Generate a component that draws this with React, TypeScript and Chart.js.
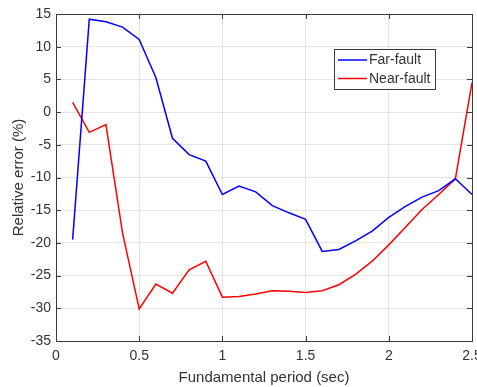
import React, { useEffect, useRef } from "react";
import { Chart, registerables } from "chart.js";

Chart.register(...registerables);

const periods = [0.1, 0.2, 0.3, 0.4, 0.5, 0.6, 0.7, 0.8, 0.9, 1.0, 1.1, 1.2, 1.3, 1.4, 1.5, 1.6, 1.7, 1.8, 1.9, 2.0, 2.1, 2.2, 2.3, 2.4, 2.5];
const farFault = [-19.5, 14.2, 13.8, 13.0, 11.1, 5.3, -4.0, -6.5, -7.5, -12.6, -11.3, -12.2, -14.3, -15.4, -16.4, -21.3, -21.0, -19.7, -18.2, -16.1, -14.4, -13.0, -12.0, -10.2, -12.6];
const nearFault = [1.5, -3.1, -1.9, -18.5, -30.1, -26.3, -27.7, -24.1, -22.8, -28.3, -28.2, -27.8, -27.3, -27.4, -27.6, -27.3, -26.4, -24.8, -22.8, -20.3, -17.6, -14.9, -12.6, -10.2, 4.5];
const xTicks = [0, 0.5, 1, 1.5, 2, 2.5];
const yTicks = [-35, -30, -25, -20, -15, -10, -5, 0, 5, 10, 15];
const seriesNames = ["Far-fault", "Near-fault"];
const seriesColors = ["#0000ff", "#ff0000"];

const FONT = "'Liberation Sans', Arial, Helvetica, sans-serif";
const AXIS_COLOR = "#3a3a3a";
const TEXT_COLOR = "#333333";

const frameAndLegend = {
  id: "frameAndLegend",
  afterDraw(chart: any) {
    const { ctx, chartArea } = chart;
    const { left, right, top, bottom } = chartArea;
    ctx.save();
    ctx.strokeStyle = AXIS_COLOR;
    ctx.lineWidth = 1;
    ctx.strokeRect(Math.round(left) + 0.5, Math.round(top) + 0.5, Math.round(right - left), Math.round(bottom - top));
    // inner tick marks on all four sides
    const xs = chart.scales.x;
    const ys = chart.scales.y;
    ctx.beginPath();
    xs.ticks.forEach((t: any) => {
      const px = Math.round(xs.getPixelForValue(t.value)) + 0.5;
      ctx.moveTo(px, bottom);
      ctx.lineTo(px, bottom - 5);
      ctx.moveTo(px, top);
      ctx.lineTo(px, top + 5);
    });
    ys.ticks.forEach((t: any) => {
      const py = Math.round(ys.getPixelForValue(t.value)) + 0.5;
      ctx.moveTo(left, py);
      ctx.lineTo(left + 5, py);
      ctx.moveTo(right, py);
      ctx.lineTo(right - 5, py);
    });
    ctx.stroke();

    // legend box
    const bx = 334, by = 49, bw = 101, bh = 40;
    ctx.fillStyle = "#ffffff";
    ctx.fillRect(bx, by, bw, bh);
    ctx.strokeStyle = AXIS_COLOR;
    ctx.strokeRect(bx + 0.5, by + 0.5, bw, bh);
    ctx.font = `14px ${FONT}`;
    ctx.textBaseline = "middle";
    ctx.textAlign = "left";
    chart.data.datasets.forEach((ds: any, i: number) => {
      const ly = by + 11 + i * 18.5;
      ctx.strokeStyle = ds.borderColor;
      ctx.lineWidth = 1.5;
      ctx.beginPath();
      ctx.moveTo(bx + 4, ly);
      ctx.lineTo(bx + 33, ly);
      ctx.stroke();
      ctx.fillStyle = TEXT_COLOR;
      ctx.fillText(ds.label, bx + 35, ly + 0.5);
    });
    ctx.restore();
  },
};

export default function App() {
  const ref = useRef<HTMLCanvasElement | null>(null);
  useEffect(() => {
    if (!ref.current) return;
    const chart = new Chart(ref.current, {
      type: "line",
      data: {
        datasets: [
          {
            label: seriesNames[0],
            data: periods.map((p, i) => ({ x: p, y: farFault[i] })),
            borderColor: seriesColors[0],
            backgroundColor: seriesColors[0],
            borderWidth: 1.5,
            pointRadius: 0,
            tension: 0,
          },
          {
            label: seriesNames[1],
            data: periods.map((p, i) => ({ x: p, y: nearFault[i] })),
            borderColor: seriesColors[1],
            backgroundColor: seriesColors[1],
            borderWidth: 1.5,
            pointRadius: 0,
            tension: 0,
          },
        ],
      },
      options: {
        responsive: false,
        maintainAspectRatio: false,
        devicePixelRatio: 1,
        animation: false,
        layout: { padding: { left: 0, top: 14, right: 5, bottom: 0 } },
        plugins: {
          legend: { display: false },
          tooltip: { enabled: false },
        },
        scales: {
          x: {
            type: "linear",
            min: 0,
            max: 2.5,
            afterBuildTicks: (s: any) => {
              s.ticks = xTicks.map((v) => ({ value: v }));
            },
            afterFit: (s: any) => {
              s.height = 46;
              s.paddingLeft = 0;
              s.paddingRight = 0;
            },
            grid: { color: "#e4e4e4", drawTicks: false },
            border: { display: false },
            ticks: {
              padding: 7,
              maxRotation: 0,
              autoSkip: false,
              color: TEXT_COLOR,
              font: { family: FONT, size: 14 },
              callback: (v: any) => String(v),
            },
            title: {
              display: true,
              text: "Fundamental period (sec)",
              color: TEXT_COLOR,
              font: { family: FONT, size: 15 },
              padding: { top: 1, bottom: 0 },
            },
          },
          y: {
            min: -35,
            max: 15,
            afterBuildTicks: (s: any) => {
              s.ticks = yTicks.map((v) => ({ value: v }));
            },
            afterFit: (s: any) => {
              s.width = 56;
              s.paddingTop = 0;
              s.paddingBottom = 0;
            },
            grid: { color: "#e4e4e4", drawTicks: false },
            border: { display: false },
            ticks: {
              padding: 5,
              autoSkip: false,
              color: TEXT_COLOR,
              font: { family: FONT, size: 14 },
              callback: (v: any) => String(v),
            },
            title: {
              display: true,
              text: "Relative error (%)",
              color: TEXT_COLOR,
              font: { family: FONT, size: 15 },
              padding: { top: 10, bottom: 0 },
            },
          },
        },
      },
      plugins: [frameAndLegend],
    });
    return () => chart.destroy();
  }, []);
  return (
    <div style={{ position: "absolute", left: 0, top: 0, width: 477, height: 387, background: "#fff" }}>
      <canvas ref={ref} width={477} height={387} style={{ width: 477, height: 387, display: "block" }} />
    </div>
  );
}
